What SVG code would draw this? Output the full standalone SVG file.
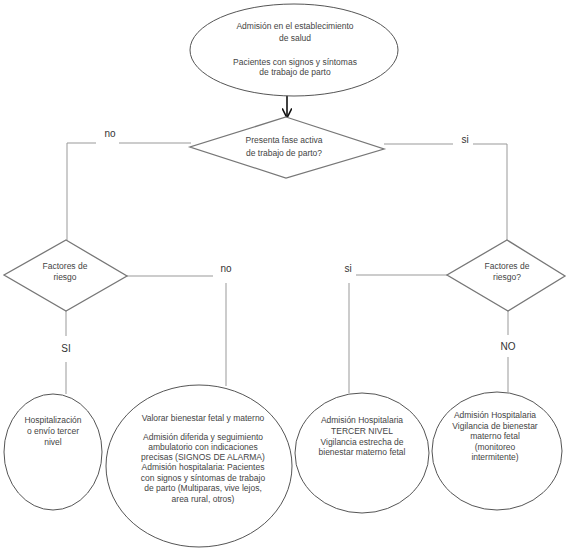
<svg xmlns="http://www.w3.org/2000/svg" width="567" height="552" viewBox="0 0 567 552">
<defs>
<style>
.n{fill:#fff;stroke:#555;stroke-width:1}
.d{fill:#fff;stroke:#777;stroke-width:1.3}
.c{fill:none;stroke:#999;stroke-width:1}
.t{font-family:"Liberation Sans",Arial,sans-serif;font-size:8.5px;fill:#444;text-anchor:middle}
.l{font-family:"Liberation Sans",Arial,sans-serif;font-size:10px;fill:#333;text-anchor:middle}
</style>
<marker id="ah" viewBox="0 0 10 10" refX="9" refY="5" markerWidth="6" markerHeight="6" orient="auto">
<path d="M0,0 L10,5 L0,10" fill="none" stroke="#111" stroke-width="1.6"/>
</marker>
</defs>
<rect width="567" height="552" fill="#fff"/>
<g id="connectors">
<line x1="287" y1="95" x2="287" y2="117" stroke="#111" stroke-width="1.6" marker-end="url(#ah)"/>
<polyline class="c" points="96,143 67,143 67,240"/>
<line class="c" x1="119" y1="143" x2="191" y2="143"/>
<polyline class="c" points="384,144 453,144"/>
<polyline class="c" points="473,144 507,144 507,240"/>
<line class="c" x1="127" y1="276" x2="213" y2="276"/>
<line class="c" x1="226" y1="283" x2="226" y2="386"/>
<line class="c" x1="66" y1="311" x2="66" y2="336"/>
<line class="c" x1="66" y1="362" x2="66" y2="394"/>
<line class="c" x1="447" y1="275" x2="356" y2="275"/>
<line class="c" x1="349" y1="283" x2="349" y2="393"/>
<line class="c" x1="508" y1="311" x2="508" y2="335"/>
<line class="c" x1="508" y1="357" x2="508" y2="392"/>
<text class="l" x="110" y="137">no</text>
<text class="l" x="465" y="143">si</text>
<text class="l" x="226" y="272">no</text>
<text class="l" x="348" y="272">si</text>
<text class="l" x="66" y="352">SI</text>
<text class="l" x="508" y="350">NO</text>
</g>
<g id="start">
<ellipse class="n" cx="294" cy="50" rx="104" ry="46"/>
<text class="t" x="295" y="29">Admisión  en el establecimiento</text>
<text class="t" x="295" y="41">de salud</text>
<text class="t" x="295" y="65">Pacientes con signos y síntomas</text>
<text class="t" x="295" y="75">de trabajo de parto</text>
</g>
<g id="fase-activa">
<polygon class="d" points="286,117 384,149 286,178 190,147"/>
<text class="t" x="284" y="143">Presenta fase activa</text>
<text class="t" x="284" y="156">de trabajo de parto?</text>
</g>
<g id="factores-izq">
<polygon class="d" points="66,240 127,276 66,311 4,275"/>
<text class="t" x="65" y="269">Factores de</text>
<text class="t" x="65" y="280">riesgo</text>
</g>
<g id="factores-der">
<polygon class="d" points="507,240 565,276 508,311 447,275"/>
<text class="t" x="507" y="269">Factores de</text>
<text class="t" x="507" y="280">riesgo?</text>
</g>
<g id="hospitalizacion">
<ellipse class="n" cx="53" cy="452" rx="49" ry="58"/>
<text class="t" x="53" y="423">Hospitalización</text>
<text class="t" x="53" y="434">o envío tercer</text>
<text class="t" x="53" y="445">nivel</text>
</g>
<g id="valorar">
<ellipse class="n" cx="199" cy="466" rx="93" ry="81"/>
<text class="t" x="203" y="421">Valorar bienestar fetal y materno</text>
<text class="t" x="203" y="440">Admisión diferida y seguimiento</text>
<text class="t" x="203" y="450">ambulatorio  con indicaciones</text>
<text class="t" x="203" y="460">precisas (SIGNOS DE ALARMA)</text>
<text class="t" x="203" y="470">Admisión hospitalaria:   Pacientes</text>
<text class="t" x="203" y="481">con signos y síntomas de trabajo</text>
<text class="t" x="203" y="491">de parto (Multiparas, vive lejos,</text>
<text class="t" x="203" y="502">area rural, otros)</text>
</g>
<g id="tercer-nivel">
<ellipse class="n" cx="362" cy="453" rx="67" ry="60"/>
<text class="t" x="362" y="423">Admisión Hospitalaria</text>
<text class="t" x="362" y="434">TERCER NIVEL</text>
<text class="t" x="362" y="445">Vigilancia  estrecha de</text>
<text class="t" x="362" y="455">bienestar materno fetal</text>
</g>
<g id="intermitente">
<ellipse class="n" cx="497" cy="451" rx="65" ry="59"/>
<text class="t" x="495" y="418">Admisión Hospitalaria</text>
<text class="t" x="495" y="429">Vigilancia de bienestar</text>
<text class="t" x="495" y="439">materno fetal</text>
<text class="t" x="495" y="450">(monitoreo</text>
<text class="t" x="495" y="460">intermitente)</text>
</g>
</svg>
